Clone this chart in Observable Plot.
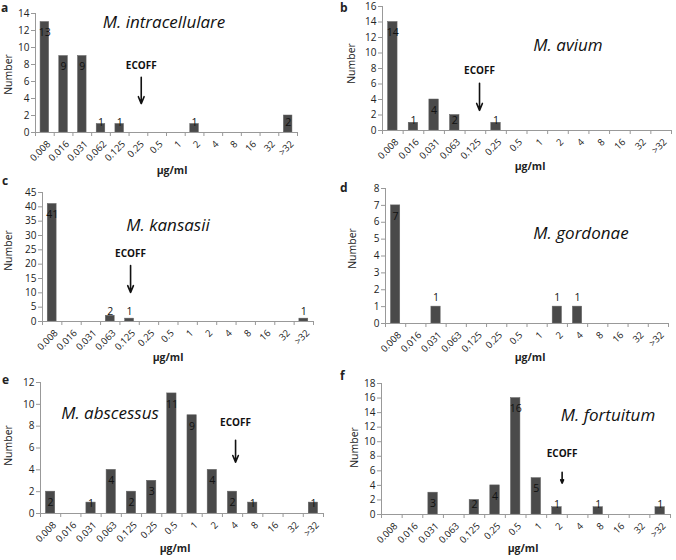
<!DOCTYPE html>
<html><head><meta charset="utf-8">
<script src="https://cdn.jsdelivr.net/npm/d3@7"></script>
<script src="https://cdn.jsdelivr.net/npm/@observablehq/plot@0.6"></script>
<style>
body{margin:0;background:#fff;font-family:"Open Sans",sans-serif;}
#wrap{position:relative;width:676px;height:560px;overflow:hidden;background:#fff;}
.p{position:absolute;}
.t{position:absolute;white-space:nowrap;color:#222;transform:translate(-50%,-50%);line-height:1.2;}
</style></head><body><div id="wrap"></div>
<script>
// ---- data ----
const mic = ["0.008","0.016","0.031","0.063","0.125","0.25","0.5","1","2","4","8","16","32",">32"];
const micA = ["0.008","0.016","0.031","0.062","0.125","0.25","0.5","1","2","4","8","16","32",">32"];
const intracellulare = [13,9,9,1,1,0,0,0,1,0,0,0,0,2];
const avium          = [14,1,4,2,0,1,0,0,0,0,0,0,0,0];
const kansasii       = [41,0,0,2,1,0,0,0,0,0,0,0,0,1];
const gordonae       = [7,0,1,0,0,0,0,0,1,1,0,0,0,0];
const abscessus      = [2,0,1,4,2,3,11,9,4,2,1,0,0,1];
const fortuitum      = [0,0,3,0,2,4,16,5,1,0,1,0,0,1];
const species = ["M. intracellulare","M. avium","M. kansasii","M. gordonae","M. abscessus","M. fortuitum"];
const letters = ["a","b","c","d","e","f"];
const ecoffs = ["0.25","0.125","0.125",null,"4","2"];

// ---- layout ----
const panels = [
  {counts:intracellulare, labels:micA, ymax:14, ystep:2, left:0,   top:0,   w:338, h:185, ml:35, mr:41, mt:13, mb:53,
   letter:[1,8], ylab:[8,74], xlab:[172,170], title:[164,22], ecoffDx:0.15, ecoffY:[7.9,6.5,3.4]},
  {counts:avium, labels:mic, ymax:16, ystep:2, left:338, top:0, w:338, h:185, ml:44, mr:5, mt:6, mb:55,
   letter:[340,8], ylab:[351,63], xlab:[530,166], title:[568,45], ecoffDx:0.2, ecoffY:[7.7,6.1,2.6]},
  {counts:kansasii, labels:mic, ymax:45, ystep:5, left:0, top:185, w:338, h:185, ml:42, mr:25, mt:7, mb:49,
   letter:[2,181], ylab:[8,250], xlab:[168,357], title:[168,225], ecoffDx:0.05, ecoffY:[23.7,19.5,10.1]},
  {counts:gordonae, labels:mic, ymax:8, ystep:1, left:338, top:185, w:338, h:185, ml:47, mr:8, mt:3, mb:47,
   letter:[340,188], ylab:[352,248], xlab:[530,357], title:[581,233], shortAbove:true},
  {counts:abscessus, labels:mic, ymax:12, ystep:2, left:0, top:370, w:338, h:190, ml:40, mr:15, mt:12, mb:47,
   letter:[2,380], ylab:[8,445], xlab:[175,548], title:[110,413], ecoffDx:0.15, ecoffY:[8.3,6.7,4.7]},
  {counts:fortuitum, labels:mic, ymax:18, ystep:2, left:338, top:370, w:338, h:190, ml:43, mr:6, mt:13, mb:46,
   letter:[340,376], ylab:[354,447], xlab:[523,548], title:[608,415], ecoffDx:0.25, ecoffY:[8.4,5.8,4.3]}
];

const wrap = document.getElementById("wrap");
function addText(txt, x, y, style) {
  const d = document.createElement("div");
  d.className = "t";
  d.textContent = txt;
  d.style.left = x + "px"; d.style.top = y + "px";
  Object.assign(d.style, style || {});
  wrap.appendChild(d);
  return d;
}

panels.forEach((cfg, k) => {
  const rows = cfg.counts.map((n, i) => ({i, mic: cfg.labels[i], n}));
  const bars = rows.filter(d => d.n > 0);
  const ppu = (cfg.h - cfg.mt - cfg.mb) / cfg.ymax;
  const inside = bars.filter(d => d.n * ppu >= 21);
  const short = bars.filter(d => d.n * ppu < 21);
  const marks = [
    Plot.rectY(bars, {x1: d => d.i + 0.27, x2: d => d.i + 0.73, y: "n", fill: "#4a4a4a", stroke: "#666", strokeWidth: 0.5}),
    Plot.ruleY([0], {stroke: "#999"}),
    Plot.ruleX([0], {stroke: "#999"}),
    Plot.axisY({ticks: d3.range(0, cfg.ymax + cfg.ystep / 2, cfg.ystep), tickSize: 4, stroke: "#999", fill: "#222", fontSize: 10, tickPadding: 2, label: null}),
    Plot.axisX({ticks: d3.range(0, 15), tickSize: 4, stroke: "#999", tickFormat: () => "", label: null}),
    // rotated category labels
    Plot.text(rows, {x: d => d.i + 0.5, frameAnchor: "bottom", text: "mic", rotate: -45, textAnchor: "end", lineAnchor: "middle", dy: 10, dx: 4, fontSize: 9.5, fill: "#222"}),
    // y-axis title
    Plot.text(["Number"], {frameAnchor: "top-left", text: d => d, rotate: -90, textAnchor: "middle", lineAnchor: "middle",
      dx: cfg.ylab[0] - cfg.left - cfg.ml, dy: cfg.ylab[1] - cfg.top - cfg.mt, fontSize: 10.5, fill: "#222"}),
    Plot.text(inside, {x: d => d.i + 0.5, y: "n", text: "n", dy: 11, fill: "#111", fontSize: 10.5}),
    Plot.text(short, {x: d => d.i + 0.5, y: d => cfg.shortAbove ? d.n : 0, text: "n", dy: cfg.shortAbove ? -9 : -10, fill: "#111", fontSize: 10.5})
  ];
  const ec = ecoffs[k];
  if (ec) {
    const ax = cfg.labels.indexOf(ec) + 0.5 + cfg.ecoffDx;
    marks.push(Plot.text([ec], {x: () => ax, y: () => cfg.ecoffY[0], text: () => "ECOFF", fontWeight: "bold", fontSize: 10, fill: "#111"}));
    marks.push(Plot.arrow([ec], {x1: () => ax, x2: () => ax, y1: () => cfg.ecoffY[1], y2: () => cfg.ecoffY[2], stroke: "#111", strokeWidth: 1.6, headLength: 7, headAngle: 45}));
  }
  const svg = Plot.plot({
    width: cfg.w, height: cfg.h,
    marginLeft: cfg.ml, marginRight: cfg.mr, marginTop: cfg.mt, marginBottom: cfg.mb,
    x: {domain: [0, 14]},
    y: {domain: [0, cfg.ymax]},
    style: {fontFamily: "Open Sans, sans-serif", fontSize: "10px", color: "#222", background: "transparent", overflow: "visible"},
    marks
  });
  svg.classList.add("p");
  svg.style.left = cfg.left + "px";
  svg.style.top = cfg.top + "px";
  wrap.appendChild(svg);

  addText(letters[k], cfg.letter[0], cfg.letter[1], {fontWeight: "bold", fontSize: "12px", transform: "translate(0,-50%)"});
  addText("µg/ml", cfg.xlab[0], cfg.xlab[1], {fontSize: "10.5px", fontWeight: "bold"});
  addText(species[k], cfg.title[0], cfg.title[1], {fontSize: "17px", fontStyle: "italic", color: "#111"});
});
</script></body></html>
